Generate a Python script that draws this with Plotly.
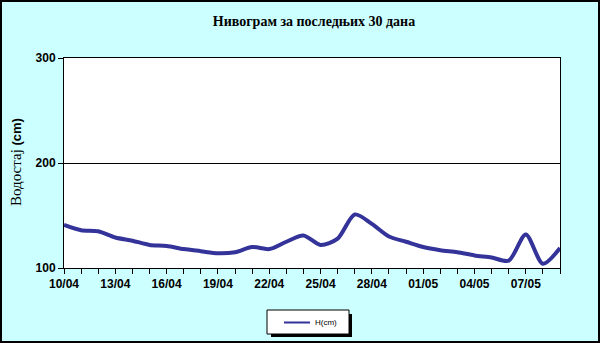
import plotly.graph_objects as go

dates = ["10/04","11/04","12/04","13/04","14/04","15/04","16/04","17/04","18/04","19/04",
         "20/04","21/04","22/04","23/04","24/04","25/04","26/04","27/04","28/04","29/04",
         "30/04","01/05","02/05","03/05","04/05","05/05","06/05","07/05","08/05","09/05"]
levels = [141, 136, 135, 129, 126, 122, 121, 118, 116, 114,
          115, 120, 118, 125, 131, 122, 128, 151, 142, 130,
          125, 120, 117, 115, 112, 110, 107, 132, 104, 119]
series_name = "H(cm)"
y_ticks = [100, 200, 300]
line_color = "#333399"

W, H = 600, 343
L, R, T, B = 64, 40, 58, 75
pw, ph = W - L - R, H - T - B

def px(x):
    return (x - L) / pw

def py(y):
    return (H - B - y) / ph

xi = list(range(len(dates)))
fig = go.Figure()
fig.add_trace(go.Scatter(x=xi, y=levels, mode="lines", name=series_name, showlegend=False,
                         line=dict(color=line_color, width=4, shape="spline", smoothing=0.8)))

fig.update_layout(
    width=W, height=H,
    margin=dict(l=L, r=R, t=T, b=B, autoexpand=False),
    paper_bgcolor="#CCFFFF", plot_bgcolor="white",
    title=dict(text="Нивограм за последњих 30 дана", x=314 / W, xanchor="center",
               y=1 - 21 / H, yanchor="middle",
               font=dict(family="Liberation Serif", size=14, color="black", weight="bold")),
    showlegend=False,
)
fig.update_xaxes(range=[0, len(dates) - 1], tickmode="array",
                 tickvals=xi[::3], ticktext=dates[::3],
                 ticks="outside", ticklen=5, tickcolor="black",
                 minor=dict(tickvals=xi, ticks="outside", ticklen=5, tickcolor="black"),
                 showgrid=False, showline=True, linecolor="black", linewidth=1, mirror=True,
                 tickfont=dict(family="Liberation Sans", size=12, color="black", weight="bold"),
                 zeroline=False)
fig.update_yaxes(range=[100, 300], tickmode="array", tickvals=y_ticks,
                 ticks="outside", ticklen=5, tickcolor="black",
                 showgrid=True, gridcolor="black", gridwidth=1,
                 showline=True, linecolor="black", linewidth=1, mirror=True,
                 tickfont=dict(family="Liberation Sans", size=12, color="black", weight="bold"),
                 zeroline=False)

fig.add_annotation(
    text="<span style='font-family:Liberation Serif;font-size:15px'>Водостај</span> <b>(cm)</b>",
    xref="paper", yref="paper", x=px(16), y=py(162), showarrow=False,
    textangle=-90, xanchor="center", yanchor="middle",
    font=dict(family="Liberation Sans", size=13, color="black"))

# legend: shadow, box, sample line, label
fig.add_shape(type="rect", xref="paper", yref="paper",
              x0=px(271), x1=px(352), y0=py(337), y1=py(314),
              fillcolor="black", line=dict(width=0), layer="above")
fig.add_shape(type="rect", xref="paper", yref="paper",
              x0=px(267), x1=px(349), y0=py(334), y1=py(310),
              fillcolor="white", line=dict(color="black", width=1), layer="above")
fig.add_shape(type="line", xref="paper", yref="paper",
              x0=px(284), x1=px(310), y0=py(322.5), y1=py(322.5),
              line=dict(color=line_color, width=2), layer="above")
fig.add_annotation(text=series_name, xref="paper", yref="paper",
                   x=px(313), y=py(322.5), xanchor="left", yanchor="middle", showarrow=False,
                   font=dict(family="Liberation Sans", size=8, color="black"))
# outer border
fig.add_shape(type="rect", xref="paper", yref="paper",
              x0=px(1), x1=px(W - 1), y0=py(H - 1), y1=py(1),
              line=dict(color="black", width=2), fillcolor="rgba(0,0,0,0)", layer="above")

fig.write_html("out.html")
